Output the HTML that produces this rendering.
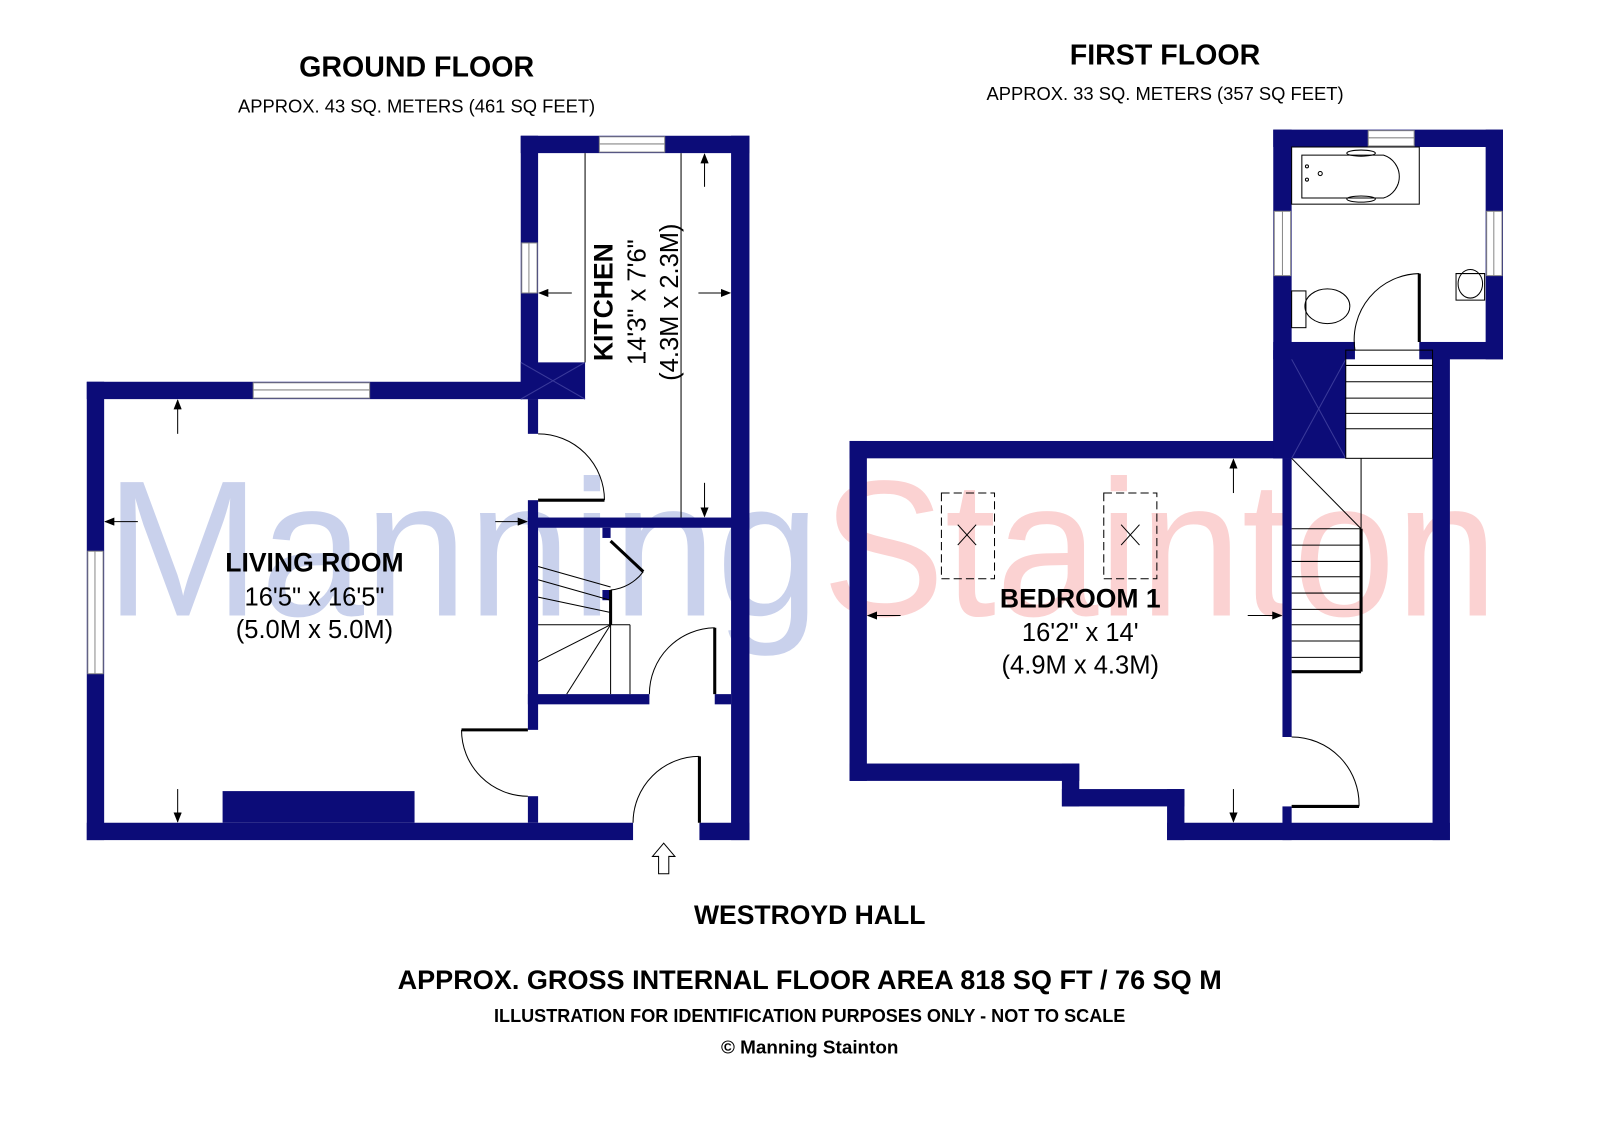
<!DOCTYPE html>
<html><head><meta charset="utf-8"><style>
html,body{margin:0;padding:0;background:#fff}
svg{display:block}
text{font-family:"Liberation Sans",Arial,sans-serif}
</style></head><body>
<svg width="1600" height="1130" viewBox="0 0 1567 1107" preserveAspectRatio="none" xmlns="http://www.w3.org/2000/svg">
<rect width="1567" height="1107" fill="#fff"/>
<!-- watermark -->
<text x="103" y="603" font-size="190" fill="#c9d1ec" textLength="700" lengthAdjust="spacingAndGlyphs">Manning</text>
<text x="805" y="603" font-size="190" fill="#fbd2d2" textLength="662" lengthAdjust="spacingAndGlyphs">Stainton</text>

<g fill="#0c0c78">
<!-- GROUND FLOOR -->
<rect x="85" y="374" width="17" height="449"/>
<rect x="85" y="374" width="442" height="17"/>
<rect x="85" y="806" width="535" height="17"/>
<rect x="685" y="806" width="49" height="17"/>
<rect x="218" y="775" width="188" height="31"/>
<rect x="510" y="133" width="17" height="258"/>
<rect x="510" y="133" width="224" height="17"/>
<rect x="716" y="133" width="18" height="690"/>
<rect x="510" y="355" width="63" height="36"/>
<rect x="517" y="391" width="10" height="34"/>
<rect x="517" y="490" width="10" height="225"/>
<rect x="517" y="780" width="10" height="26"/>
<rect x="517" y="507" width="217" height="10"/>
<rect x="517" y="680" width="119" height="10"/>
<rect x="700" y="680" width="16" height="10"/>
<rect x="590" y="517" width="8" height="10"/>
<rect x="590" y="578" width="8" height="10"/>
<!-- FIRST FLOOR -->
<rect x="832" y="432" width="433" height="17"/>
<rect x="832" y="432" width="17" height="333"/>
<rect x="832" y="748" width="225" height="17"/>
<rect x="1040" y="748" width="17" height="42"/>
<rect x="1040" y="773" width="120" height="17"/>
<rect x="1143" y="773" width="17" height="50"/>
<rect x="1143" y="806" width="277" height="17"/>
<rect x="1403" y="343" width="17" height="480"/>
<rect x="1247" y="127" width="225" height="17"/>
<rect x="1247" y="127" width="18" height="322"/>
<rect x="1455" y="127" width="17" height="225"/>
<rect x="1390" y="335" width="82" height="17"/>
<rect x="1247" y="335" width="80" height="17"/>
<rect x="1247" y="343" width="71" height="106"/>
<rect x="1256" y="449" width="9" height="273"/>
<rect x="1256" y="790" width="9" height="33"/>
</g>
<!-- windows -->
<g fill="#fff" stroke="#888" stroke-width="1">
<rect x="248" y="375" width="114" height="15"/><line x1="248" y1="382" x2="362" y2="382"/>
<rect x="86" y="540" width="15" height="120"/><line x1="93" y1="540" x2="93" y2="660"/>
<rect x="511" y="238" width="15" height="49"/><line x1="518" y1="238" x2="518" y2="287"/>
<rect x="587" y="134" width="64" height="15"/><line x1="587" y1="141" x2="651" y2="141"/>
<rect x="1340" y="128" width="45" height="15"/><line x1="1340" y1="135" x2="1385" y2="135"/>
<rect x="1248" y="207" width="16" height="63"/><line x1="1256" y1="207" x2="1256" y2="270"/>
<rect x="1456" y="207" width="15" height="63"/><line x1="1463" y1="207" x2="1463" y2="270"/>
</g>
<!-- X marks -->
<g stroke="#3a3a9a" stroke-width="1">
<line x1="510" y1="355" x2="573" y2="391"/><line x1="573" y1="355" x2="510" y2="391"/>
<line x1="1265" y1="352" x2="1318" y2="449"/><line x1="1318" y1="352" x2="1265" y2="449"/>
</g>
<g fill="none" stroke="#000" stroke-width="1">
<line x1="573" y1="150" x2="573" y2="355"/>
<line x1="667" y1="150" x2="667" y2="507"/>
<path d="M527 425 A65 65 0 0 1 592 490"/>
<path d="M452 715 A65 65 0 0 0 517 780"/>
<path d="M620 806 A65 65 0 0 1 685 741"/>
<path d="M636 680 A65 65 0 0 1 700 615"/>
<path d="M598 578 A45 45 0 0 0 630 560"/>
<line x1="527" y1="555" x2="598" y2="575"/>
<line x1="527" y1="568" x2="598" y2="588"/>
<line x1="527" y1="585" x2="598" y2="600"/>
<line x1="527" y1="612" x2="617" y2="612"/>
<line x1="598" y1="612" x2="527" y2="648"/>
<line x1="598" y1="612" x2="555" y2="680"/>
<line x1="598" y1="612" x2="598" y2="680"/>
<line x1="617" y1="612" x2="617" y2="680"/>
<rect x="1318" y="343" width="85" height="106"/>
<line x1="1318" y1="358" x2="1403" y2="358"/>
<line x1="1318" y1="374" x2="1403" y2="374"/>
<line x1="1318" y1="390" x2="1403" y2="390"/>
<line x1="1318" y1="405" x2="1403" y2="405"/>
<line x1="1318" y1="420" x2="1403" y2="420"/>
<line x1="1333" y1="449" x2="1333" y2="518"/>
<line x1="1265" y1="449" x2="1333" y2="518"/>
<line x1="1265" y1="518" x2="1333" y2="518"/>
<line x1="1265" y1="534" x2="1333" y2="534"/>
<line x1="1265" y1="550" x2="1333" y2="550"/>
<line x1="1265" y1="565" x2="1333" y2="565"/>
<line x1="1265" y1="581" x2="1333" y2="581"/>
<line x1="1265" y1="597" x2="1333" y2="597"/>
<line x1="1265" y1="612" x2="1333" y2="612"/>
<line x1="1265" y1="628" x2="1333" y2="628"/>
<line x1="1265" y1="644" x2="1333" y2="644"/>
<path d="M1265 722 A66 66 0 0 1 1331 790"/>
<path d="M1327 343 A65 65 0 0 1 1390 268"/>
<rect x="922" y="483" width="52" height="84" stroke-dasharray="8 4"/>
<line x1="938" y1="514" x2="956" y2="534"/><line x1="956" y1="514" x2="938" y2="534"/>
<rect x="1081" y="483" width="52" height="84" stroke-dasharray="8 4"/>
<line x1="1098" y1="514" x2="1116" y2="534"/><line x1="1116" y1="514" x2="1098" y2="534"/>
<rect x="1265" y="144" width="125" height="56"/>
<path d="M1275 152 H1355 A22 22 0 0 1 1355 194 H1275 Z"/>
<ellipse cx="1333" cy="150" rx="14" ry="3"/><ellipse cx="1333" cy="195" rx="14" ry="3"/>
<circle cx="1280" cy="163" r="1.5"/><circle cx="1280" cy="176" r="1.5"/><circle cx="1293" cy="170" r="2"/>
<ellipse cx="1300" cy="300" rx="22" ry="17"/>
<rect x="1265" y="285" width="14" height="36"/>
<path d="M1426 268 H1454 V294 H1426 Z"/>
<ellipse cx="1440" cy="278" rx="12" ry="14"/>
</g>
<g stroke="#000" stroke-width="3">
<line x1="527" y1="490" x2="592" y2="490"/>
<line x1="452" y1="715" x2="517" y2="715"/>
<line x1="685" y1="741" x2="685" y2="806"/>
<line x1="700" y1="615" x2="700" y2="680"/>
<line x1="598" y1="530" x2="630" y2="560"/>
<line x1="598" y1="578" x2="598" y2="612"/>
<line x1="1333" y1="518" x2="1333" y2="658"/>
<line x1="1265" y1="658" x2="1333" y2="658"/>
<line x1="1265" y1="790" x2="1331" y2="790"/>
<line x1="1390" y1="268" x2="1390" y2="335"/>
</g>
<defs><marker id="a" markerWidth="10" markerHeight="8" refX="9" refY="4" orient="auto"><path d="M0 0 L10 4 L0 8 Z" fill="#000"/></marker></defs>
<g stroke="#000" stroke-width="1" marker-end="url(#a)">
<line x1="174" y1="425" x2="174" y2="392"/>
<line x1="174" y1="773" x2="174" y2="805"/>
<line x1="135" y1="511" x2="103" y2="511"/>
<line x1="485" y1="511" x2="516" y2="511"/>
<line x1="560" y1="287" x2="528" y2="287"/>
<line x1="684" y1="287" x2="715" y2="287"/>
<line x1="690" y1="183" x2="690" y2="151"/>
<line x1="690" y1="473" x2="690" y2="506"/>
<line x1="882" y1="603" x2="850" y2="603"/>
<line x1="1222" y1="603" x2="1255" y2="603"/>
<line x1="1208" y1="483" x2="1208" y2="450"/>
<line x1="1208" y1="773" x2="1208" y2="805"/>
</g>
<path d="M650 826 L639 839 L645 839 L645 856 L655 856 L655 839 L661 839 Z" fill="#fff" stroke="#000" stroke-width="1"/>

<g text-anchor="middle" fill="#000">
<text x="408" y="75" font-size="28" font-weight="bold">GROUND FLOOR</text>
<text x="408" y="110" font-size="18">APPROX. 43 SQ. METERS (461 SQ FEET)</text>
<text x="1141" y="63" font-size="28" font-weight="bold">FIRST FLOOR</text>
<text x="1141" y="98" font-size="18">APPROX. 33 SQ. METERS (357 SQ FEET)</text>
<text x="308" y="560" font-size="26" font-weight="bold">LIVING ROOM</text>
<text x="308" y="593" font-size="25">16'5" x 16'5"</text>
<text x="308" y="625" font-size="25">(5.0M x 5.0M)</text>
<text x="1058" y="595" font-size="26" font-weight="bold">BEDROOM 1</text>
<text x="1058" y="628" font-size="25">16'2" x 14'</text>
<text x="1058" y="660" font-size="25">(4.9M x 4.3M)</text>
<text transform="translate(600,296) rotate(-90)" font-size="26" font-weight="bold">KITCHEN</text>
<text transform="translate(632,296) rotate(-90)" font-size="25">14'3" x 7'6"</text>
<text transform="translate(664,296) rotate(-90)" font-size="25">(4.3M x 2.3M)</text>
<text x="793" y="905" font-size="26" font-weight="bold">WESTROYD HALL</text>
<text x="793" y="969" font-size="26.5" font-weight="bold">APPROX. GROSS INTERNAL FLOOR AREA 818 SQ FT / 76 SQ M</text>
<text x="793" y="1001" font-size="17.7" font-weight="bold">ILLUSTRATION FOR IDENTIFICATION PURPOSES ONLY - NOT TO SCALE</text>
<text x="793" y="1032" font-size="18.5" font-weight="bold">© Manning Stainton</text>
</g>
</svg>
</body></html>
